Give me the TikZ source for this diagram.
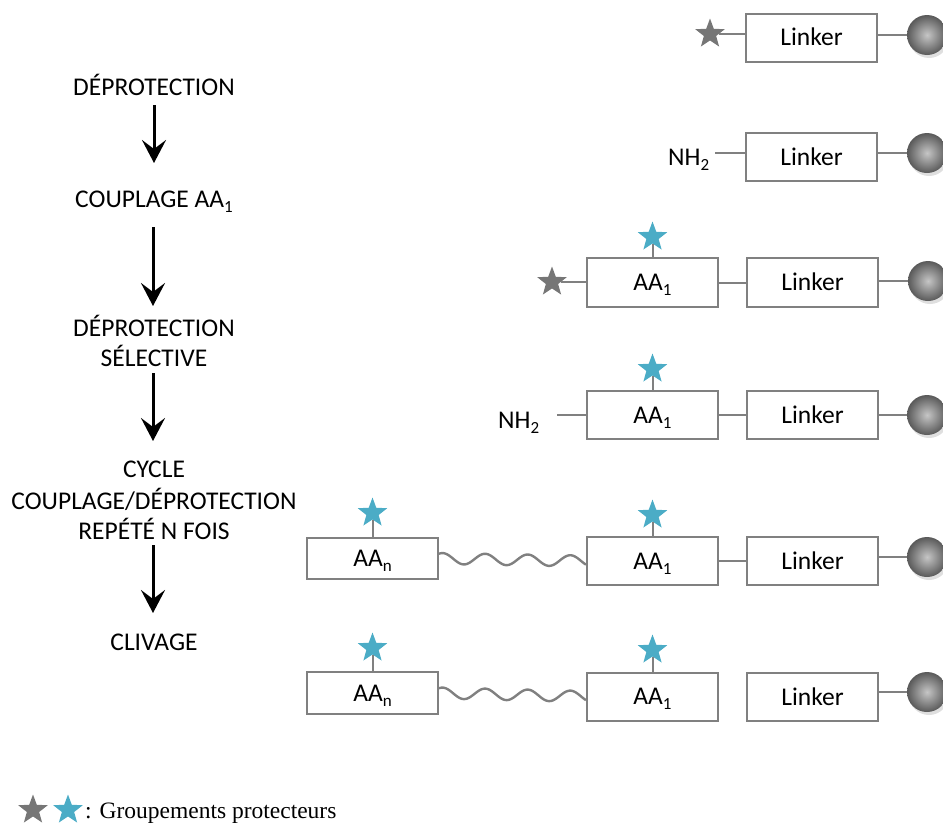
\documentclass[tikz,border=0pt]{standalone}
\usepackage{fontspec}
\setmainfont{Carlito}
\newfontfamily\legendfont{Liberation Serif}
\usetikzlibrary{shapes.geometric,arrows.meta,shadows,calc}
\definecolor{lngray}{RGB}{128,128,128}
\definecolor{stargray}{RGB}{118,118,118}
\definecolor{starblue}{RGB}{75,172,198}
\newcommand\lowsub[1]{\raisebox{-0.2em}{\fontsize{17}{19}\selectfont #1}}
\begin{document}
\begin{tikzpicture}[x=1pt,y=-1pt,
  lbl/.style={font=\fontsize{25.5}{30}\selectfont, inner sep=0pt},
  box/.style={draw=lngray, line width=2pt, fill=white, minimum width=131pt, inner sep=0pt,
              text height=16pt, text depth=0pt, font=\fontsize{25.5}{30}\selectfont},
  conn/.style={draw=lngray, line width=2pt},
  gstar/.style={star, star points=5, star point ratio=2.4, fill=stargray, inner sep=0pt, minimum size=31pt},
  bstar/.style={gstar, fill=starblue},
  bead/.style={circle, minimum size=40pt, inner sep=0pt, shade, inner color=gray!45, outer color=gray!70!black,
               drop shadow={shadow xshift=2pt, shadow yshift=-3pt, opacity=0.25}},
  arr/.style={line width=3pt, -{Stealth[length=23pt,width=24pt,inset=9pt]}},
  wave/.style={draw=lngray, line width=2.4pt}
]
\useasboundingbox (0,0) rectangle (943,825);

% ---------- left column ----------
\node[lbl, anchor=base] (t1) at (154,95) {DÉPROTECTION};
\node[lbl, anchor=base] (t2) at (154,207) {COUPLAGE AA\lowsub{1}};
\node[lbl, anchor=base] (t3) at (154,336) {DÉPROTECTION};
\node[lbl, anchor=base] (t4) at (154,366) {SÉLECTIVE};
\node[lbl, anchor=base] (t5) at (154,477) {CYCLE};
\node[lbl, anchor=base] (t6) at (154,509) {COUPLAGE/DÉPROTECTION};
\node[lbl, anchor=base] (t7) at (154,539) {REPÉTÉ N FOIS};
\node[lbl, anchor=base] (t8) at (154,650) {CLIVAGE};

\coordinate (a1s) at (154,105); \coordinate (a1e) at (154,163);
\coordinate (a2s) at (153,227); \coordinate (a2e) at (153,306);
\coordinate (a3s) at (153,373); \coordinate (a3e) at (153,441);
\coordinate (a4s) at (153,545); \coordinate (a4e) at (153,613);
\draw[arr] (a1s) -- (a1e);
\draw[arr] (a2s) -- (a2e);
\draw[arr] (a3s) -- (a3e);
\draw[arr] (a4s) -- (a4e);

% ---------- row 1 ----------
\node[box, minimum height=48pt] (L1) at (811.5,37.5) {Linker};
\node[gstar] (g1) at (710,34) {};
\node[bead] (s1) at (927,35) {};
\draw[conn] (g1) -- (L1.west |- g1);
\draw[conn] (L1.east |- s1) -- (s1);

% ---------- row 2 ----------
\node[box, minimum height=48pt] (L2) at (811.5,157) {Linker};
\node[lbl, anchor=base west] (n2) at (668,165) {NH\lowsub{2}};
\node[bead] (s2) at (927,153) {};
\draw[conn, shorten >=6pt] (L2.west |- s2) -- (n2.east |- s2);
\draw[conn] (L2.east |- s2) -- (s2);

% ---------- row 3 ----------
\node[box, minimum height=49pt] (A3) at (652.5,282.5) {AA\lowsub{1}};
\node[box, minimum height=49pt] (L3) at (812.5,282.5) {Linker};
\node[gstar] (g3) at (552,282) {};
\node[bstar] (b3) at (652.5,237) {};
\node[bead] (s3) at (928,281) {};
\draw[conn] (g3) -- (A3.west |- g3);
\draw[conn] (A3.north) -- (b3);
\draw[conn] (A3.east) -- (L3.west);
\draw[conn] (L3.east |- s3) -- (s3);

% ---------- row 4 ----------
\node[box, minimum height=48pt] (A4) at (652.5,415) {AA\lowsub{1}};
\node[box, minimum height=48pt] (L4) at (812.5,415) {Linker};
\node[bstar] (b4) at (652.5,369) {};
\node[lbl, anchor=base west] (n4) at (498,428) {NH\lowsub{2}};
\node[bead] (s4) at (927,415) {};
\draw[conn, shorten >=18pt] (A4.west) -- (n4.east |- A4.west);
\draw[conn] (A4.north) -- (b4);
\draw[conn] (A4.east) -- (L4.west);
\draw[conn] (L4.east |- s4) -- (s4);

% ---------- row 5 ----------
\node[box, minimum height=41pt] (N5) at (372.5,558.5) {AA\lowsub{n}};
\node[bstar] (c5) at (372.5,513) {};
\node[box, minimum height=48pt] (A5) at (652.5,561) {AA\lowsub{1}};
\node[bstar] (b5) at (652.5,515) {};
\node[box, minimum height=48pt] (L5) at (812.5,561) {Linker};
\node[bead] (s5) at (927,557) {};
\draw[conn] (N5.north) -- (c5);
\draw[conn] (A5.north) -- (b5);
\draw[wave] let \p1=(N5.east), \p2=(A5.west) in
  plot[variable=\t, domain=0:1, samples=90, smooth]
  ({\x1+(\x2-\x1)*\t}, {\y1+(\y2-\y1)*\t+5.5pt*sin(360*3.45*\t+60)});
\draw[conn] (A5.east) -- (L5.west);
\draw[conn] (L5.east |- s5) -- (s5);

% ---------- row 6 ----------
\node[box, minimum height=42pt] (N6) at (372.5,693) {AA\lowsub{n}};
\node[bstar] (c6) at (372.5,648) {};
\node[box, minimum height=48pt] (A6) at (652.5,696.5) {AA\lowsub{1}};
\node[bstar] (b6) at (652.5,650) {};
\node[box, minimum height=48pt] (L6) at (812.5,697) {Linker};
\node[bead] (s6) at (927,692) {};
\draw[conn] (N6.north) -- (c6);
\draw[conn] (A6.north) -- (b6);
\draw[wave] let \p1=(N6.east), \p2=(A6.west) in
  plot[variable=\t, domain=0:1, samples=90, smooth]
  ({\x1+(\x2-\x1)*\t}, {\y1+(\y2-\y1)*\t+5.5pt*sin(360*3.45*\t+60)});
\draw[conn] (L6.east |- s6) -- (s6);

% ---------- legend ----------
\node[gstar] (lg) at (33,810) {};
\node[bstar] (lb) at (68,810) {};
\node[anchor=base west, inner sep=0pt, font=\legendfont\fontsize{23.5}{28}\selectfont] (lt) at (85,818) {: Groupements protecteurs};
\end{tikzpicture}
\end{document}
